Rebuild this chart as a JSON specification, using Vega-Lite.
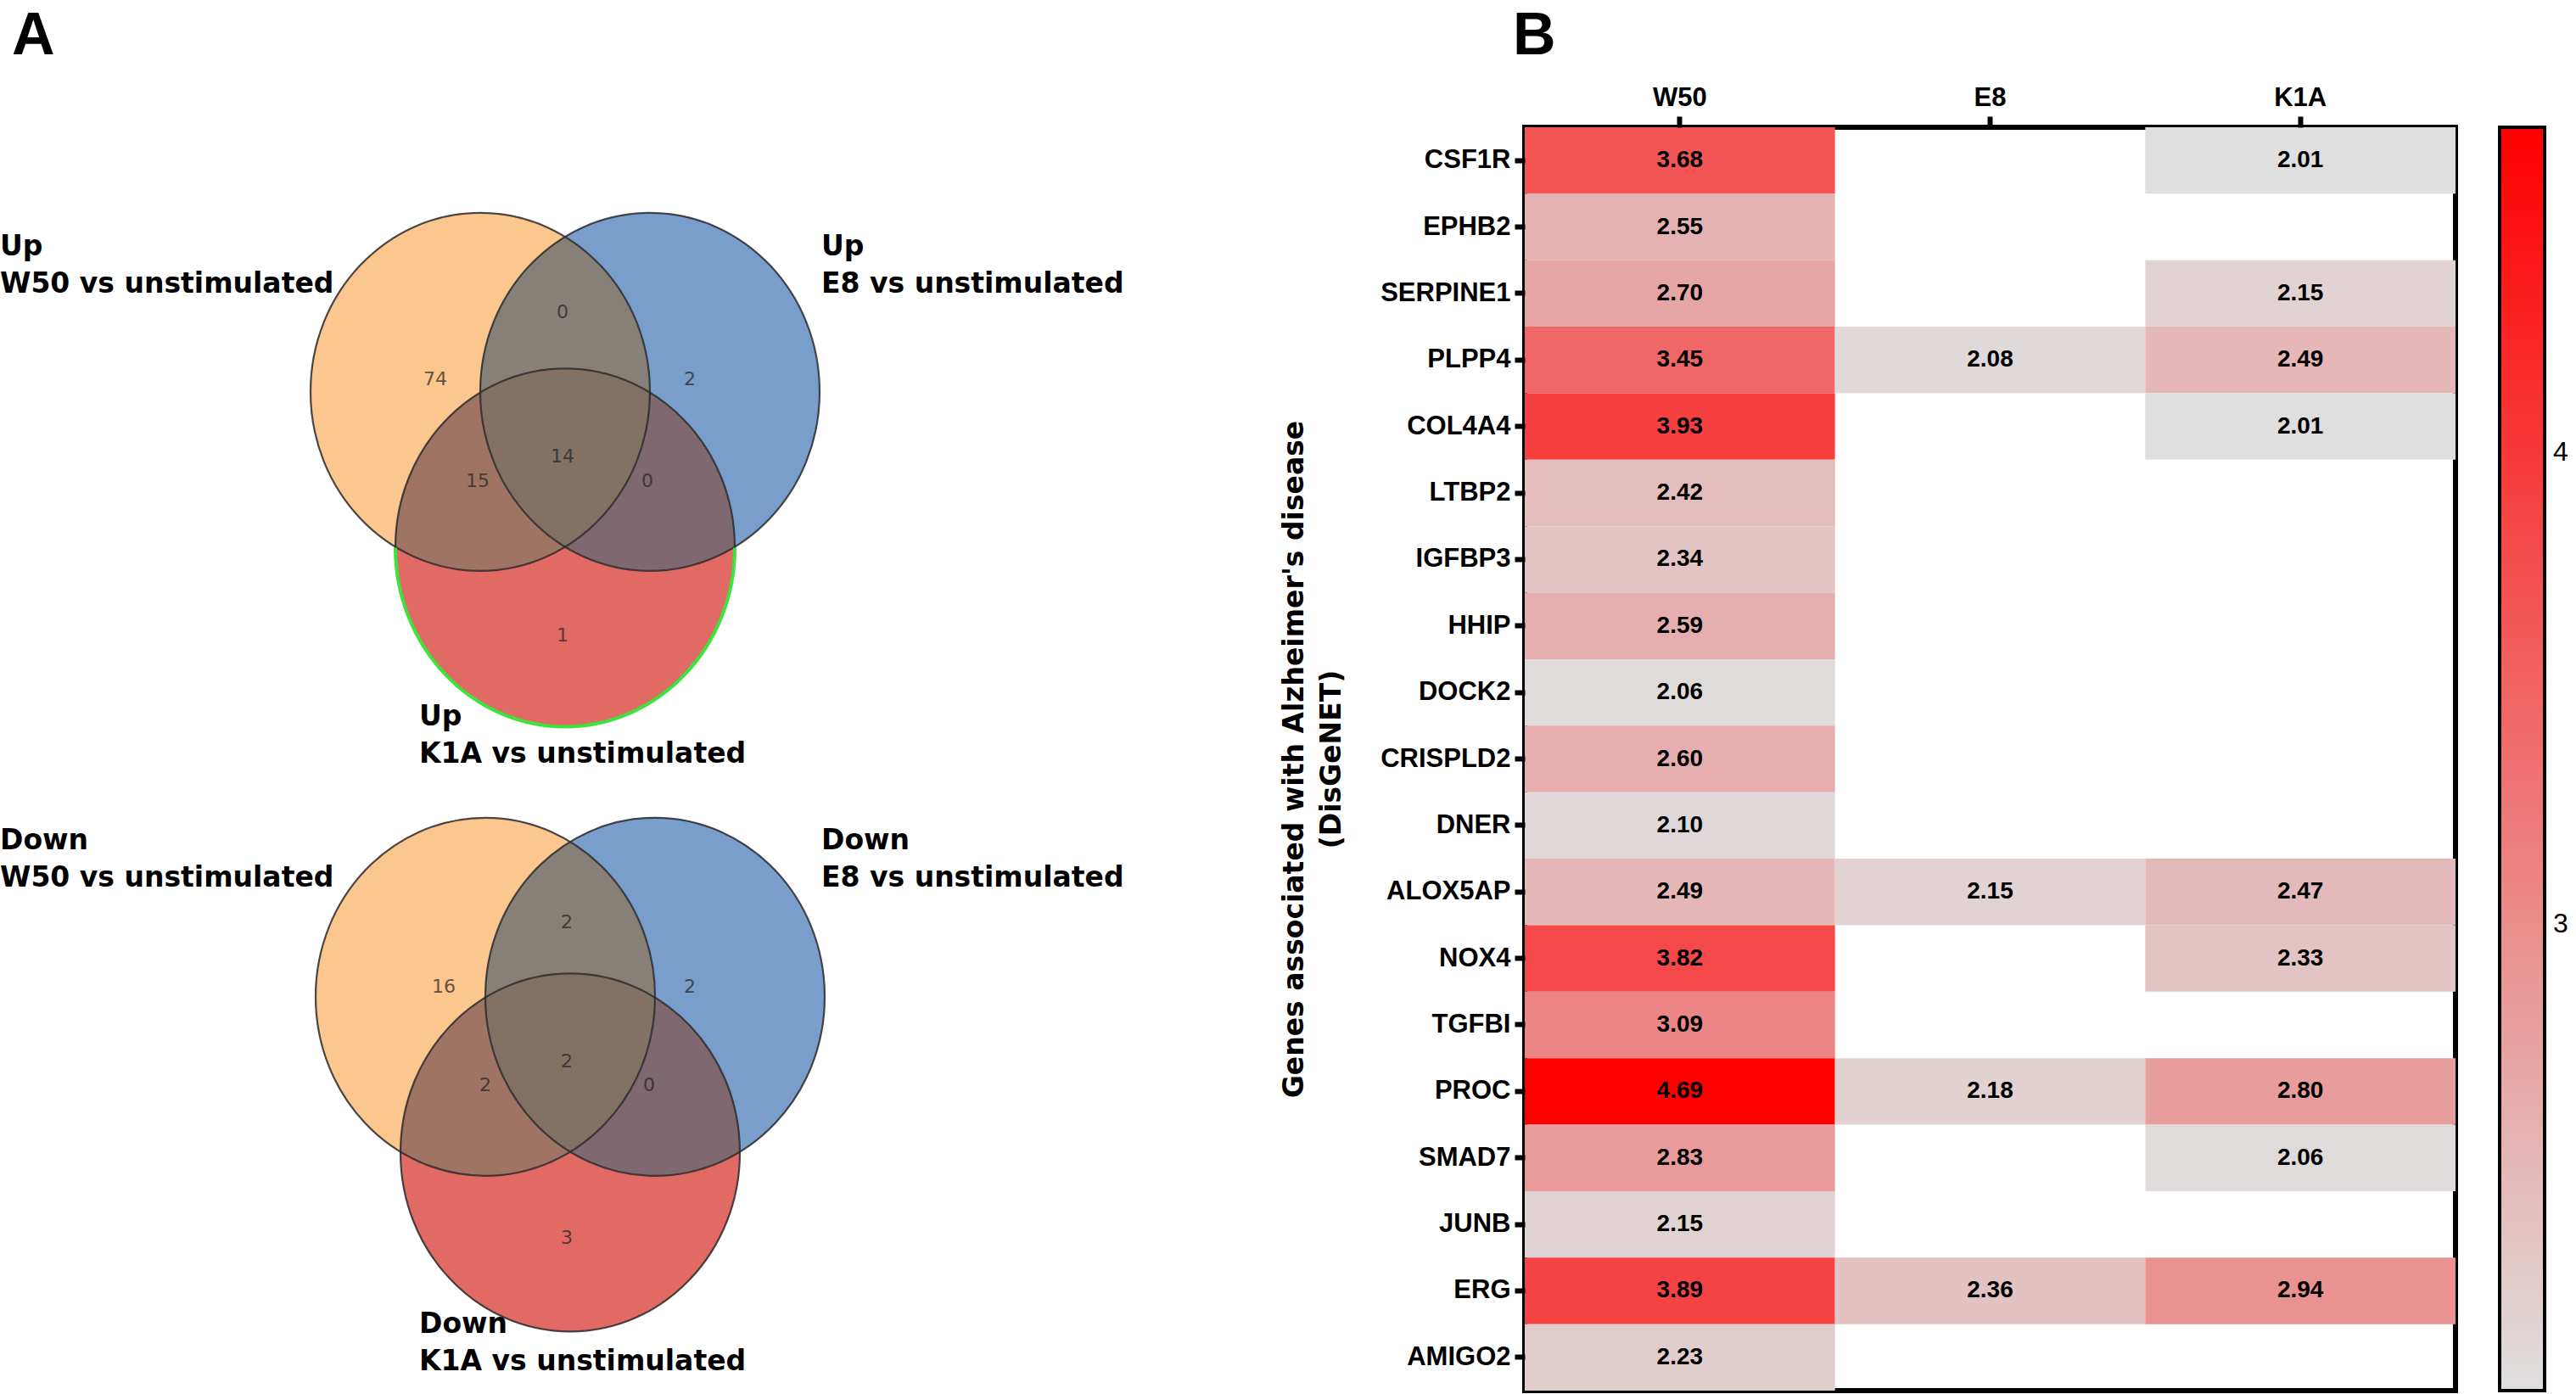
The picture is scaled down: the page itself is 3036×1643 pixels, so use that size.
{
  "$schema": "https://vega.github.io/schema/vega-lite/v6.json",
  "background": "white",
  "padding": {"top": 5, "left": 0, "right": 0, "bottom": 0},
  "spacing": 106,
  "config": {"view": {"stroke": null}, "font": "Liberation Sans"},
  "datasets": {
    "regions": [
      {"venn": "Up", "region": "O", "count": 74, "cx": 6.66, "cy": 5.22, "lx": 5.13, "ly": 4.46},
      {"venn": "Up", "region": "OB", "count": 0, "cx": 6.66, "cy": 5.22, "lx": 6.63, "ly": 3.67},
      {"venn": "Up", "region": "B", "count": 2, "cx": 6.66, "cy": 5.22, "lx": 8.13, "ly": 4.46},
      {"venn": "Up", "region": "OR", "count": 15, "cx": 6.66, "cy": 5.22, "lx": 5.63, "ly": 5.66},
      {"venn": "Up", "region": "OBR", "count": 14, "cx": 6.66, "cy": 5.22, "lx": 6.63, "ly": 5.37},
      {"venn": "Up", "region": "BR", "count": 0, "cx": 6.66, "cy": 5.22, "lx": 7.63, "ly": 5.66},
      {"venn": "Up", "region": "R", "count": 1, "cx": 6.66, "cy": 5.22, "lx": 6.63, "ly": 7.48},
      {"venn": "Down", "region": "O", "count": 16, "cx": 6.72, "cy": 12.35, "lx": 5.23, "ly": 11.62},
      {"venn": "Down", "region": "OB", "count": 2, "cx": 6.72, "cy": 12.35, "lx": 6.68, "ly": 10.86},
      {"venn": "Down", "region": "B", "count": 2, "cx": 6.72, "cy": 12.35, "lx": 8.13, "ly": 11.62},
      {"venn": "Down", "region": "OR", "count": 2, "cx": 6.72, "cy": 12.35, "lx": 5.72, "ly": 12.78},
      {"venn": "Down", "region": "OBR", "count": 2, "cx": 6.72, "cy": 12.35, "lx": 6.68, "ly": 12.5},
      {"venn": "Down", "region": "BR", "count": 0, "cx": 6.72, "cy": 12.35, "lx": 7.65, "ly": 12.78},
      {"venn": "Down", "region": "R", "count": 3, "cx": 6.72, "cy": 12.35, "lx": 6.68, "ly": 14.58}
    ],
    "venns": [
      {"venn": "Up", "cx": 6.66, "cy": 5.22},
      {"venn": "Down", "cx": 6.72, "cy": 12.35}
    ],
    "setlabels": [
      {"label": "Up\nW50 vs unstimulated", "x": 0.0, "y": 3.0},
      {"label": "Up\nE8 vs unstimulated", "x": 9.68, "y": 3.0},
      {"label": "Up\nK1A vs unstimulated", "x": 4.94, "y": 8.54},
      {"label": "Down\nW50 vs unstimulated", "x": 0.0, "y": 10.0},
      {"label": "Down\nE8 vs unstimulated", "x": 9.68, "y": 10.0},
      {"label": "Down\nK1A vs unstimulated", "x": 4.94, "y": 15.7}
    ],
    "cells": [
      {"gene": "CSF1R", "cond": "W50", "value": 3.68},
      {"gene": "CSF1R", "cond": "K1A", "value": 2.01},
      {"gene": "EPHB2", "cond": "W50", "value": 2.55},
      {"gene": "SERPINE1", "cond": "W50", "value": 2.70},
      {"gene": "SERPINE1", "cond": "K1A", "value": 2.15},
      {"gene": "PLPP4", "cond": "W50", "value": 3.45},
      {"gene": "PLPP4", "cond": "E8", "value": 2.08},
      {"gene": "PLPP4", "cond": "K1A", "value": 2.49},
      {"gene": "COL4A4", "cond": "W50", "value": 3.93},
      {"gene": "COL4A4", "cond": "K1A", "value": 2.01},
      {"gene": "LTBP2", "cond": "W50", "value": 2.42},
      {"gene": "IGFBP3", "cond": "W50", "value": 2.34},
      {"gene": "HHIP", "cond": "W50", "value": 2.59},
      {"gene": "DOCK2", "cond": "W50", "value": 2.06},
      {"gene": "CRISPLD2", "cond": "W50", "value": 2.60},
      {"gene": "DNER", "cond": "W50", "value": 2.10},
      {"gene": "ALOX5AP", "cond": "W50", "value": 2.49},
      {"gene": "ALOX5AP", "cond": "E8", "value": 2.15},
      {"gene": "ALOX5AP", "cond": "K1A", "value": 2.47},
      {"gene": "NOX4", "cond": "W50", "value": 3.82},
      {"gene": "NOX4", "cond": "K1A", "value": 2.33},
      {"gene": "TGFBI", "cond": "W50", "value": 3.09},
      {"gene": "PROC", "cond": "W50", "value": 4.69},
      {"gene": "PROC", "cond": "E8", "value": 2.18},
      {"gene": "PROC", "cond": "K1A", "value": 2.80},
      {"gene": "SMAD7", "cond": "W50", "value": 2.83},
      {"gene": "SMAD7", "cond": "K1A", "value": 2.06},
      {"gene": "JUNB", "cond": "W50", "value": 2.15},
      {"gene": "ERG", "cond": "W50", "value": 3.89},
      {"gene": "ERG", "cond": "E8", "value": 2.36},
      {"gene": "ERG", "cond": "K1A", "value": 2.94},
      {"gene": "AMIGO2", "cond": "W50", "value": 2.23}
    ]
  },
  "hconcat": [
    {
      "width": 1400,
      "height": 1494,
      "view": {"stroke": null},
      "layer": [
        {
          "data": {"name": "regions"},
          "mark": {"type": "point", "filled": true, "opacity": 1, "size": 160000, "strokeWidth": 0},
          "encoding": {
            "x": {"field": "cx", "type": "quantitative", "scale": {"domain": [0, 14], "nice": false, "zero": false}, "axis": null},
            "y": {"field": "cy", "type": "quantitative", "scale": {"domain": [1.49, 16.43], "nice": false, "zero": false, "reverse": true}, "axis": null},
            "shape": {
              "field": "region", "type": "nominal", "legend": null,
              "scale": {
                "domain": ["O", "B", "R", "OB", "OR", "BR", "OBR"],
                "range": [
                  "M 0 -1.2196 A 1 1.055 0 0 0 -1.5 -0.306 A 1 1.055 0 0 0 -1 0.6077 A 1 1.055 0 0 1 -0.5 -0.3018 A 1 1.055 0 0 1 0 -1.2196 Z",
                  "M 0 -1.2196 A 1 1.055 0 0 1 1.5 -0.306 A 1 1.055 0 0 1 1 0.6077 A 1 1.055 0 0 0 0.5 -0.3018 A 1 1.055 0 0 0 0 -1.2196 Z",
                  "M -1 0.6077 A 1 1.055 0 0 0 0 0.6077 A 1 1.055 0 0 0 1 0.6077 A 1 1.055 0 0 1 0 1.6669 A 1 1.055 0 0 1 -1 0.6077 Z",
                  "M 0 -1.2196 A 1 1.055 0 0 1 0.5 -0.3018 A 1 1.055 0 0 0 -0.5 -0.3018 A 1 1.055 0 0 1 0 -1.2196 Z",
                  "M -0.5 -0.3018 A 1 1.055 0 0 0 0 0.6077 A 1 1.055 0 0 1 -1 0.6077 A 1 1.055 0 0 1 -0.5 -0.3018 Z",
                  "M 0.5 -0.3018 A 1 1.055 0 0 1 0 0.6077 A 1 1.055 0 0 0 1 0.6077 A 1 1.055 0 0 0 0.5 -0.3018 Z",
                  "M -0.5 -0.3018 A 1 1.055 0 0 1 0.5 -0.3018 A 1 1.055 0 0 1 0 0.6077 A 1 1.055 0 0 1 -0.5 -0.3018 Z"
                ]
              }
            },
            "color": {
              "field": "region", "type": "nominal", "legend": null,
              "scale": {
                "domain": ["O", "B", "R", "OB", "OR", "BR", "OBR"],
                "range": ["#FCC68F", "#7A9ECB", "#E16A65", "#878079", "#A07464", "#7F6870", "#837164"]
              }
            }
          }
        },
        {
          "data": {"name": "venns"},
          "mark": {"type": "point", "filled": false, "size": 160000, "stroke": "#2b2b2b", "strokeWidth": 2.2, "opacity": 0.85,
                   "shape": "M -1.5 -0.306 A 1 1.055 0 0 1 -0.5 -1.361 A 1 1.055 0 0 1 0.5 -0.306 A 1 1.055 0 0 1 -0.5 0.749 A 1 1.055 0 0 1 -1.5 -0.306 Z"},
          "encoding": {"x": {"field": "cx", "type": "quantitative"}, "y": {"field": "cy", "type": "quantitative"}}
        },
        {
          "data": {"name": "venns"},
          "mark": {"type": "point", "filled": false, "size": 160000, "stroke": "#2b2b2b", "strokeWidth": 2.2, "opacity": 0.85,
                   "shape": "M -0.5 -0.306 A 1 1.055 0 0 1 0.5 -1.361 A 1 1.055 0 0 1 1.5 -0.306 A 1 1.055 0 0 1 0.5 0.749 A 1 1.055 0 0 1 -0.5 -0.306 Z"},
          "encoding": {"x": {"field": "cx", "type": "quantitative"}, "y": {"field": "cy", "type": "quantitative"}}
        },
        {
          "data": {"name": "venns"},
          "mark": {"type": "point", "filled": false, "size": 160000, "stroke": "#2b2b2b", "strokeWidth": 2.2, "opacity": 0.85,
                   "shape": "M -1 0.612 A 1 1.055 0 0 1 0 -0.443 A 1 1.055 0 0 1 1 0.612 A 1 1.055 0 0 1 0 1.667 A 1 1.055 0 0 1 -1 0.612 Z"},
          "encoding": {"x": {"field": "cx", "type": "quantitative"}, "y": {"field": "cy", "type": "quantitative"}}
        },
        {
          "data": {"name": "venns"},
          "transform": [{"filter": "datum.venn === 'Up'"}],
          "mark": {"type": "point", "filled": false, "size": 160000, "stroke": "#3EE23E", "strokeWidth": 4, "opacity": 1,
                   "shape": "M -1 0.612 A 1 1.055 0 0 0 0 1.667 A 1 1.055 0 0 0 1 0.612"},
          "encoding": {"x": {"field": "cx", "type": "quantitative"}, "y": {"field": "cy", "type": "quantitative"}}
        },
        {
          "data": {"name": "regions"},
          "mark": {"type": "text", "font": "DejaVu Sans", "fontSize": 22, "fill": "#222222", "opacity": 0.7, "align": "center", "baseline": "middle"},
          "encoding": {
            "x": {"field": "lx", "type": "quantitative"},
            "y": {"field": "ly", "type": "quantitative"},
            "text": {"field": "count", "type": "nominal"}
          }
        },
        {
          "data": {"name": "setlabels"},
          "mark": {"type": "text", "align": "left", "baseline": "alphabetic", "font": "DejaVu Sans", "fontWeight": "bold", "fontSize": 33, "lineHeight": 44, "lineBreak": "\n", "fill": "black"},
          "encoding": {
            "x": {"field": "x", "type": "quantitative"},
            "y": {"field": "y", "type": "quantitative"},
            "text": {"field": "label", "type": "nominal"}
          }
        },
        {
          "data": {"values": [{"panel": "A", "x": 0.14, "y": 0.63}]},
          "mark": {"type": "text", "align": "left", "baseline": "alphabetic", "font": "Liberation Sans", "fontWeight": "bold", "fontSize": 70, "fill": "black"},
          "encoding": {
            "x": {"field": "x", "type": "quantitative"},
            "y": {"field": "y", "type": "quantitative"},
            "text": {"field": "panel", "type": "nominal"}
          }
        }
      ]
    },
    {
      "width": 1097,
      "height": 1489,
      "view": {"stroke": "black", "strokeWidth": 6},
      "title": {"text": "B", "anchor": "start", "frame": "group", "fontSize": 70, "fontWeight": "bold", "font": "Liberation Sans", "color": "black", "dx": -14, "offset": 20},
      "data": {"name": "cells"},
      "encoding": {
        "x": {
          "field": "cond", "type": "nominal",
          "scale": {"domain": ["W50", "E8", "K1A"], "paddingInner": 0, "paddingOuter": 0},
          "axis": {"orient": "top", "title": null, "labelAngle": 0, "labelFontSize": 31, "labelFontWeight": "bold", "labelFont": "Liberation Sans", "labelColor": "black", "tickSize": 13, "tickWidth": 6, "tickColor": "black", "domain": false, "labelPadding": 6}
        },
        "y": {
          "field": "gene", "type": "nominal",
          "scale": {"domain": ["CSF1R", "EPHB2", "SERPINE1", "PLPP4", "COL4A4", "LTBP2", "IGFBP3", "HHIP", "DOCK2", "CRISPLD2", "DNER", "ALOX5AP", "NOX4", "TGFBI", "PROC", "SMAD7", "JUNB", "ERG", "AMIGO2"], "paddingInner": 0, "paddingOuter": 0},
          "axis": {"title": ["Genes associated with Alzheimer's disease", "(DisGeNET)"], "titleFont": "DejaVu Sans", "titleFontSize": 33, "titleFontWeight": "bold", "titleColor": "black", "titleLineHeight": 44, "titlePadding": 40, "labelFontSize": 31, "labelFontWeight": "bold", "labelFont": "Liberation Sans", "labelColor": "black", "tickSize": 12, "tickWidth": 6, "tickColor": "black", "domain": false, "labelPadding": 5}
        }
      },
      "layer": [
        {
          "mark": {"type": "rect"},
          "encoding": {
            "color": {
              "field": "value", "type": "quantitative",
              "scale": {"domain": [2.01, 4.69], "range": ["#DFDFDF", "#FF0000"], "interpolate": "rgb"},
              "legend": {"orient": "right", "offset": 52, "title": null, "direction": "vertical", "gradientLength": 1489, "gradientThickness": 53, "gradientStrokeColor": "black", "gradientStrokeWidth": 4, "values": [3, 4], "format": ".0f", "labelFontSize": 32, "labelFont": "Liberation Sans", "labelColor": "black", "labelOffset": 10}
            }
          }
        },
        {
          "mark": {"type": "text", "font": "Liberation Sans", "fontWeight": "bold", "fontSize": 28, "color": "black"},
          "encoding": {"text": {"field": "value", "type": "quantitative", "format": ".2f"}}
        }
      ]
    }
  ]
}
